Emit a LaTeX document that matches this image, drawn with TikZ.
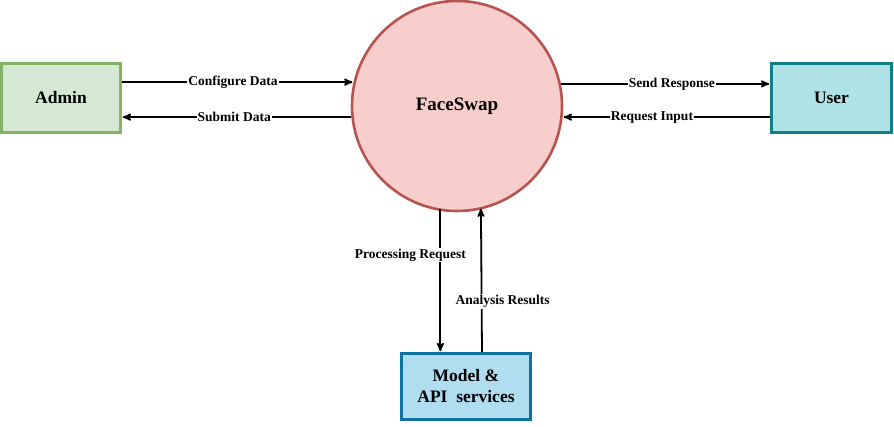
\documentclass[tikz,border=0pt]{standalone}
\usepackage{fontspec}
\setmainfont{Liberation Serif}
\usetikzlibrary{arrows,shapes}
\definecolor{adminfill}{HTML}{D5E8D4}
\definecolor{admindraw}{HTML}{82B366}
\definecolor{userfill}{HTML}{B0E3E6}
\definecolor{userdraw}{HTML}{0E8088}
\definecolor{modelfill}{HTML}{B1DDF0}
\definecolor{modeldraw}{HTML}{10739E}
\definecolor{procfill}{HTML}{F8CECC}
\definecolor{procdraw}{HTML}{B85450}
\begin{document}
\begin{tikzpicture}[x=1pt,y=-1pt,>=stealth'
        ,entity/.style = {rectangle, line width=2.6pt, font=\fontsize{17.5}{21}\selectfont\bfseries, align=center}
        ,process/.style = {circle, line width=2.6pt, draw=procdraw, fill=procfill, minimum size=210pt, font=\fontsize{19}{21}\selectfont\bfseries}
        ,flow/.style = {->, line width=1.8pt, shorten >=1pt}
        ,flowlabel/.style = {fill=white, inner sep=1pt, font=\fontsize{13.5}{15}\selectfont\bfseries}
      ]
      \useasboundingbox (0,0) rectangle (894,426);

      \node[process](face) at (457,106) {FaceSwap};
      \node[entity, draw=admindraw, fill=adminfill, minimum width=119pt, minimum height=69pt](admin) at (61,98) {Admin};
      \node[entity, draw=userdraw, fill=userfill, minimum width=120pt, minimum height=69pt](user) at (831.5,98) {User};
      \node[entity, draw=modeldraw, fill=modelfill, minimum width=129pt, minimum height=66pt](model) at (466,386.5) {Model \&\\API\ \ services};

      % admin side
      \draw[flow] (admin.east |- face.167.5) -- node[flowlabel, pos=.48]{Configure Data} (face.167.5);
      \draw[flow] (face.186) -- node[flowlabel, pos=.51]{Submit Data} (admin.east |- face.186);
      % user side
      \draw[flow] (face.12.5) -- node[flowlabel, pos=.53]{Send Response} (user.west |- face.12.5);
      \draw[flow] (user.west |- face.354.6) -- node[flowlabel, pos=.57]{Request Input} (face.354.6);
      % model side
      \draw[flow] ([yshift=2pt]face.261.9) -- node[flowlabel, pos=.32, xshift=-30pt]{Processing Request} (face.261.9 |- model.north);
      \draw[flow] ([xshift=16pt]model.north) -- node[flowlabel, pos=.35, xshift=21pt]{Analysis Results} ([yshift=2pt]face.283.6);
    \end{tikzpicture}
\end{document}
